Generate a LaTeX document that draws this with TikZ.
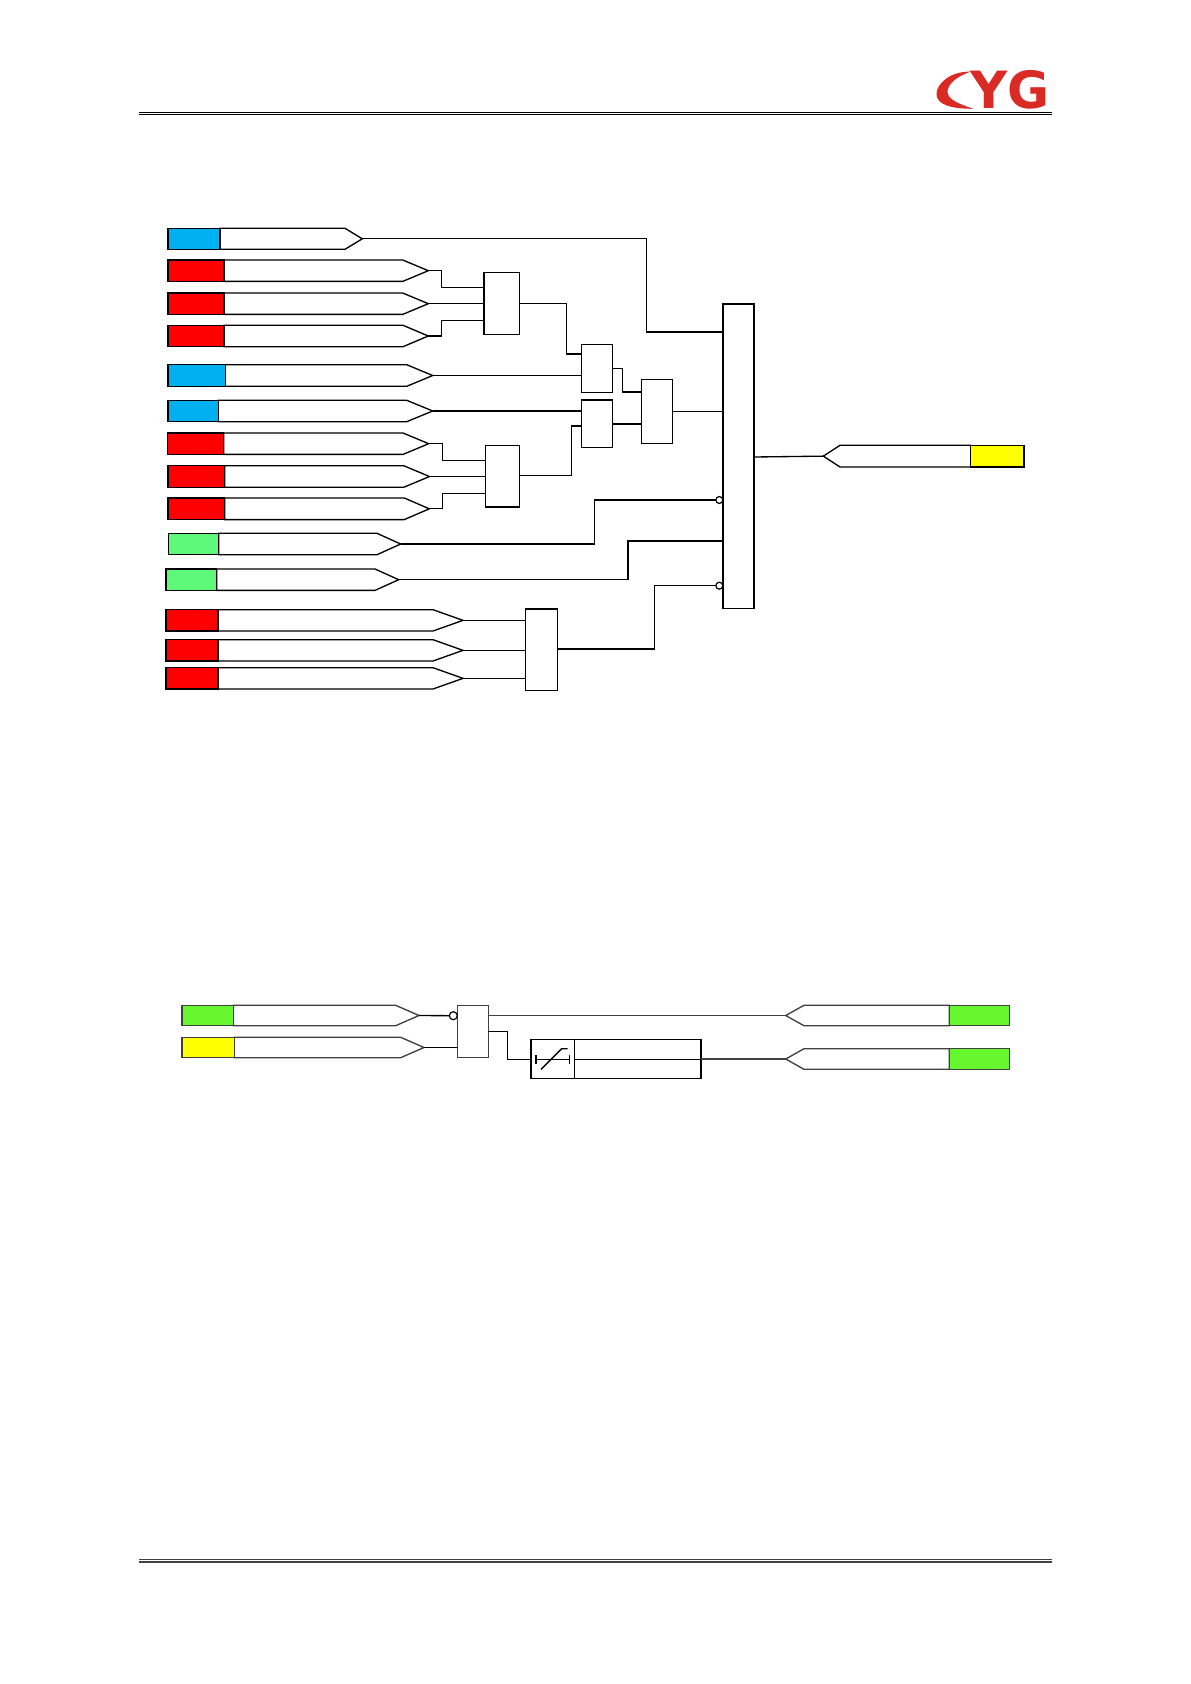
\documentclass[tikz,border=0pt]{standalone}
\usepackage{fontspec}
\setmainfont{Liberation Sans}
\newfontfamily\logofont{DejaVu Sans}
\definecolor{cblue}{HTML}{00B0F0}
\definecolor{cred}{HTML}{FF0000}
\definecolor{cmint}{HTML}{5EF97B}
\definecolor{clime}{HTML}{66F72E}
\definecolor{cyel}{HTML}{FFFF00}
\definecolor{clogo}{HTML}{D92A24}
\definecolor{cgrey}{HTML}{404040}
\newcommand{\unitpt}{0.75}
% \intag{name}{left}{top}{bottom}{divider}{shoulder}{tip}{colour}{line colour}
\newcommand{\intag}[9]{%
  \pgfmathsetmacro{\tw}{(#5-#2)*\unitpt}\pgfmathsetmacro{\th}{(#4-#3)*\unitpt}%
  \pgfmathsetmacro{\tm}{(#3+#4)/2}%
  \draw[tagline,draw=#9,fill=white] (#5,#3) -- (#6,#3) -- (#7,\tm) -- (#6,#4) -- (#5,#4) -- cycle;%
  \node[colbox,draw=#9,fill=#8,minimum width=\tw pt,minimum height=\th pt] (#1c) at (#2,#3) {};%
  \coordinate (#1) at (#7,\tm);}
% \outtag{name}{tip}{shoulder}{divider}{right}{top}{bottom}{colour}{line colour}
\newcommand{\outtag}[9]{%
  \pgfmathsetmacro{\tw}{(#5-#4)*\unitpt}\pgfmathsetmacro{\th}{(#7-#6)*\unitpt}%
  \pgfmathsetmacro{\tm}{(#6+#7)/2}%
  \draw[tagline,draw=#9,fill=white] (#4,#6) -- (#3,#6) -- (#2,\tm) -- (#3,#7) -- (#4,#7) -- cycle;%
  \node[colbox,draw=#9,fill=#8,minimum width=\tw pt,minimum height=\th pt] (#1c) at (#4,#6) {};%
  \coordinate (#1) at (#2,\tm);}
% \gate{name}{x0}{y0}{x1}{y1}
\newcommand{\gate}[5]{%
  \pgfmathsetmacro{\tw}{(#4-#2)*\unitpt}\pgfmathsetmacro{\th}{(#5-#3)*\unitpt}%
  \node[gatebox,minimum width=\tw pt,minimum height=\th pt] (#1) at (#2,#3) {};}
\tikzset{
  tagline/.style={line width=1pt,line join=miter},
  colbox/.style={rectangle,line width=1pt,anchor=north west,inner sep=0pt,outer sep=0pt},
  gatebox/.style={rectangle,draw=black,line width=1pt,fill=white,anchor=north west,inner sep=0pt,outer sep=0pt},
  wire/.style={draw=black,line width=1pt},
  inv/.style={circle,draw=black,fill=white,line width=0.9pt,inner sep=0pt,outer sep=0pt,minimum size=5.2pt},
  rulethin/.style={draw=black,line width=1pt}
}
\begin{document}
\begin{tikzpicture}[x=0.75pt,y=-0.75pt]
\useasboundingbox (0,0) rectangle (1191,1684);
% header and footer rules
\coordinate (hl) at (139,112.3); \coordinate (hr) at (1052,112.3);
\coordinate (hl2) at (139,114.8); \coordinate (hr2) at (1052,114.8);
\coordinate (fl) at (139,1559.3); \coordinate (fr) at (1052,1559.3);
\coordinate (fl2) at (139,1561.6); \coordinate (fr2) at (1052,1561.6);
\draw[rulethin] (hl) -- (hr);
\draw[rulethin] (hl2) -- (hr2);
\draw[rulethin,line width=1.1pt,draw=black!75] (fl) -- (fr);
\draw[rulethin,line width=1.4pt,draw=black!75] (fl2) -- (fr2);
% logo
\fill[clogo] (970.5,71.7) .. controls (950,71) and (936.5,84) .. (936.5,94)
  .. controls (936.5,105) and (952,108.8) .. (973,108.8)
  .. controls (960,104) and (947,100) .. (947.5,91)
  .. controls (948.5,83) and (958,76) .. cycle;
\node[anchor=base west,inner sep=0pt,text=clogo,font=\logofont\fontsize{38.5}{40}\selectfont\bfseries] (logo) at (970.5,108.5) {YG};
% input tags, upper diagram
\intag{ra}{168}{228.3}{249.3}{220}{345}{362.3}{cblue}{black}
\intag{rb}{168}{260}{281.4}{224}{402.7}{428.3}{cred}{black}
\intag{rc}{168}{293}{314.4}{224}{402.7}{428.3}{cred}{black}
\intag{rd}{168}{325.3}{346.7}{224}{403}{428.3}{cred}{black}
\intag{re}{168}{364.7}{386.3}{225.3}{406.7}{432.7}{cblue}{black}
\intag{rf}{168}{400.3}{421.7}{218.3}{406.7}{432.7}{cblue}{black}
\intag{rg}{167.3}{433}{454.4}{223.7}{403}{428.7}{cred}{black}
\intag{rh}{168}{465.7}{487.3}{224.7}{403.7}{429.5}{cred}{black}
\intag{ri}{168}{498}{519.6}{224.7}{404.3}{429.3}{cred}{black}
\intag{rj}{168.3}{533.3}{554.7}{218.7}{377}{400.7}{cmint}{black}
\intag{rk}{166}{569}{590.4}{216.7}{375}{398.7}{cmint}{black}
\intag{rl}{166}{609.7}{631}{218}{433}{463}{cred}{black}
\intag{rm}{166}{639.7}{661}{218}{433}{463}{cred}{black}
\intag{rn}{166}{667.7}{689}{218}{433}{463}{cred}{black}
% gates
\gate{ga}{484}{272.7}{519.3}{334.3}
\gate{gb}{485.7}{445.7}{519.3}{507}
\gate{gc}{581.3}{344.3}{612.7}{392.3}
\gate{gd}{581.3}{400}{612.7}{447.7}
\gate{ge}{641.7}{379.7}{672.3}{443.7}
\gate{gf}{723}{304}{754}{608.3}
\gate{gg}{525.7}{609}{557.3}{690.3}
% output tag
\outtag{oa}{823.3}{840}{970.7}{1024}{445.3}{467}{cyel}{black}
% wires, upper diagram
\draw[wire] (rb) -- (441.7,270.7) |- (ga.west |- 0,287.7);
\draw[wire] (rc) -- (ga.west |- rc);
\draw[wire] (rd) -- (441.7,336) |- (ga.west |- 0,320.7);
\draw[wire] (ga.east |- rc) -| (566.7,354) -- (gc.west |- 0,354);
\draw[wire] (re) -- (gc.west |- re);
\draw[wire] (rf) -- (gd.west |- rf);
\draw[wire] (rg) -- (442.7,443.7) |- (gb.west |- 0,460.7);
\draw[wire] (rh) -- (gb.west |- rh);
\draw[wire] (ri) -- (442.7,508.8) |- (gb.west |- 0,493.3);
\draw[wire] (gb.east |- 0,475.7) -| (571.7,426) -- (gd.west |- 0,426);
\draw[wire] (gc.east |- 0,368.7) -| (622.3,392) -- (ge.west |- 0,392);
\draw[wire] (gd.east |- 0,424) -- (ge.west |- 0,424);
\draw[wire] (ge.east |- 0,411.7) -- (gf.west |- 0,411.7);
\draw[wire] (ra) -| (646.7,332) -- (gf.west |- 0,332);
\node[inv] (na) at (719.3,500) {};
\node[inv] (nb) at (719.3,585.7) {};
\draw[wire] (rj) -| (594.7,500) -- (na);
\draw[wire] (rk) -| (628,541) -- (gf.west |- 0,541);
\draw[wire] (gg.east |- 0,649) -| (654.7,585.7) -- (nb);
\draw[wire] (rl) -- (gg.west |- rl);
\draw[wire] (rm) -- (gg.west |- rm);
\draw[wire] (rn) -- (gg.west |- rn);
\draw[wire] (gf.east |- 0,457) -- (oa);
% lower diagram
\intag{la}{182}{1005.3}{1025.7}{233.3}{395.7}{419}{clime}{cgrey}
\intag{lb}{182}{1037.3}{1057.7}{234.3}{400.7}{424}{cyel}{cgrey}
\pgfmathsetmacro{\tw}{(488.3-457.7)*\unitpt}\pgfmathsetmacro{\th}{(1057.7-1005.3)*\unitpt}
\node[gatebox,draw=cgrey,minimum width=\tw pt,minimum height=\th pt] (gl) at (457.7,1005.3) {};
\node[inv,minimum size=6pt] (nc) at (453.3,1015.7) {};
\outtag{ob}{785.7}{804}{949.3}{1009.3}{1005.3}{1025.7}{clime}{cgrey}
\outtag{oc}{785.7}{804}{949.3}{1009.3}{1048.7}{1069.3}{clime}{cgrey}
\gate{tm}{531}{1039.7}{701}{1078.7}
\draw[wire] (tm.north west) ++(43.3,0) coordinate (td) -- (td |- tm.south);
\draw[wire] (td |- 0,1059.3) -- (tm.east |- 0,1059.3);
\draw[wire] (536,1059.3) -- (569.3,1059.3);
\draw[wire] (536,1055.3) -- (536,1064);
\draw[wire] (569.3,1055.3) -- (569.3,1064);
\draw[wire] (541,1069.3) -- (561.7,1048.7) -- (567.7,1048.7);
\draw[wire] (la) -- (nc);
\draw[wire] (lb) -- (gl.west |- lb);
\draw[wire,draw=cgrey] (gl.east |- ob) -- (ob);
\draw[wire] (gl.east |- 0,1031.3) -| (507.7,1059.3) -- (tm.west |- 0,1059.3);
\draw[wire,draw=cgrey] (tm.east |- oc) -- (oc);
\end{tikzpicture}
\end{document}
